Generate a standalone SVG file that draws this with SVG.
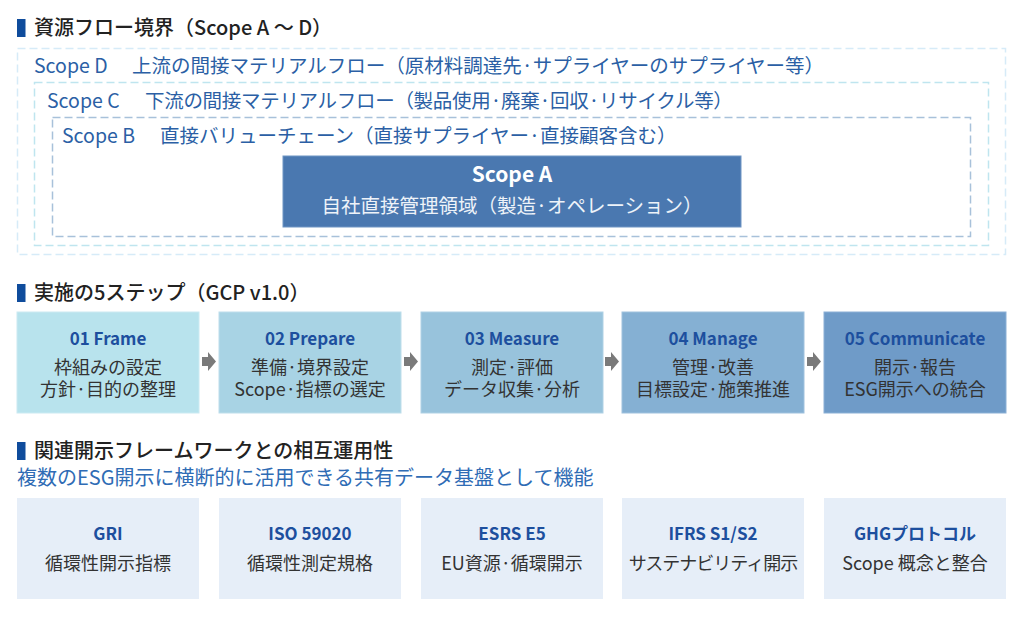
<svg xmlns="http://www.w3.org/2000/svg" width="1024" height="617" viewBox="0 0 1024 617">
<style>
text{font-family:"Noto Sans CJK JP","Noto Sans",sans-serif}
.hd{font-size:20px;font-weight:500;fill:#222}
.bar{fill:#0f4c9c}
.sc{font-size:19.5px;fill:#2b5fa5}
.st{font-size:17px;font-weight:700;fill:#1d4f9e;text-anchor:middle}
.sb{font-size:18px;fill:#333;text-anchor:middle}
.fw{fill:#e6eef8}
.arr{fill:#7a7a7a}
</style>
<rect width="1024" height="617" fill="#fff"/>

<g id="hdr1">
<rect class="bar" x="17" y="19" width="8.5" height="18"/>
<text class="hd" x="34" y="35">資源フロー境界（Scope A 〜 D）</text>
</g>

<g id="scopeD">
<rect x="17.5" y="48.5" width="988" height="206" fill="none" stroke="#d6ebf8" stroke-width="1.5" stroke-dasharray="8 4"/>
<text class="sc" y="73"><tspan x="34">Scope D</tspan><tspan x="132">上流の間接マテリアルフロー（原材料調達先·サプライヤーのサプライヤー等）</tspan></text>
</g>
<g id="scopeC">
<rect x="34.5" y="82.5" width="954" height="163" fill="none" stroke="#bfe5ef" stroke-width="1.5" stroke-dasharray="8 4"/>
<text class="sc" y="108"><tspan x="47">Scope C</tspan><tspan x="145" letter-spacing="-0.3">下流の間接マテリアルフロー（製品使用·廃棄·回収·リサイクル等）</tspan></text>
</g>
<g id="scopeB">
<rect x="52.5" y="117.5" width="918" height="119" fill="none" stroke="#a8c1da" stroke-width="1.5" stroke-dasharray="8 4"/>
<text class="sc" y="143"><tspan x="62">Scope B</tspan><tspan x="160">直接バリューチェーン（直接サプライヤー·直接顧客含む）</tspan></text>
</g>
<g id="scopeA">
<rect x="283" y="156" width="458" height="71" fill="#4a78b0" stroke="#6f95c4" stroke-width="1"/>
<text x="512" y="182" text-anchor="middle" font-size="21" font-weight="700" fill="#fff">Scope A</text>
<text x="512" y="213" text-anchor="middle" font-size="19.5" fill="#eef3f9">自社直接管理領域（製造·オペレーション）</text>
</g>

<g id="hdr2">
<rect class="bar" x="17" y="284" width="8.5" height="18"/>
<text class="hd" x="34" y="300">実施の5ステップ（GCP v1.0）</text>
</g>

<g id="step1">
<rect x="17" y="312" width="182" height="101" fill="#b8e3ed" stroke="#cbeaf2" stroke-width="1"/>
<text class="st" x="108" y="345">01 Frame</text>
<text class="sb" x="108" y="374">枠組みの設定</text>
<text class="sb" x="108" y="396">方針·目的の整理</text>
</g>
<g id="step2">
<rect x="219" y="312" width="182" height="101" fill="#a8d3e4" stroke="#bedeeb" stroke-width="1"/>
<text class="st" x="310" y="345">02 Prepare</text>
<text class="sb" x="310" y="374">準備·境界設定</text>
<text class="sb" x="310" y="396">Scope·指標の選定</text>
</g>
<g id="step3">
<rect x="421" y="312" width="182" height="101" fill="#98c3dc" stroke="#afd1e5" stroke-width="1"/>
<text class="st" x="512" y="345">03 Measure</text>
<text class="sb" x="512" y="374">測定·評価</text>
<text class="sb" x="512" y="396">データ収集·分析</text>
</g>
<g id="step4">
<rect x="622" y="312" width="182" height="101" fill="#85b0d3" stroke="#9fc2de" stroke-width="1"/>
<text class="st" x="713" y="345">04 Manage</text>
<text class="sb" x="713" y="374">管理·改善</text>
<text class="sb" x="713" y="396">目標設定·施策推進</text>
</g>
<g id="step5">
<rect x="824" y="312" width="182" height="101" fill="#6f9bc8" stroke="#8bb0d6" stroke-width="1"/>
<text class="st" x="915" y="345">05 Communicate</text>
<text class="sb" x="915" y="374">開示·報告</text>
<text class="sb" x="915" y="396">ESG開示への統合</text>
</g>

<g id="connectors">
<path class="arr" d="M202 357h6v-5l8 9.5l-8 9.5v-5h-6z"/>
<path class="arr" d="M404 357h6v-5l8 9.5l-8 9.5v-5h-6z"/>
<path class="arr" d="M605 357h6v-5l8 9.5l-8 9.5v-5h-6z"/>
<path class="arr" d="M807 357h6v-5l8 9.5l-8 9.5v-5h-6z"/>
</g>

<g id="hdr3">
<rect class="bar" x="17" y="442" width="8.5" height="18"/>
<text class="hd" x="34" y="458">関連開示フレームワークとの相互運用性</text>
<text x="17" y="485" font-size="20" fill="#2f6cb5">複数のESG開示に横断的に活用できる共有データ基盤として機能</text>
</g>

<g id="fw1">
<rect class="fw" x="17" y="498" width="182" height="101"/>
<text class="st" x="108" y="540">GRI</text>
<text class="sb" x="108" y="570">循環性開示指標</text>
</g>
<g id="fw2">
<rect class="fw" x="219" y="498" width="182" height="101"/>
<text class="st" x="310" y="540">ISO 59020</text>
<text class="sb" x="310" y="570">循環性測定規格</text>
</g>
<g id="fw3">
<rect class="fw" x="421" y="498" width="182" height="101"/>
<text class="st" x="512" y="540">ESRS E5</text>
<text class="sb" x="512" y="570">EU資源·循環開示</text>
</g>
<g id="fw4">
<rect class="fw" x="622" y="498" width="182" height="101"/>
<text class="st" x="713" y="540">IFRS S1/S2</text>
<text class="sb" x="713" y="570" letter-spacing="-1">サステナビリティ開示</text>
</g>
<g id="fw5">
<rect class="fw" x="824" y="498" width="182" height="101"/>
<text class="st" x="915" y="540">GHGプロトコル</text>
<text class="sb" x="915" y="570">Scope 概念と整合</text>
</g>
</svg>
